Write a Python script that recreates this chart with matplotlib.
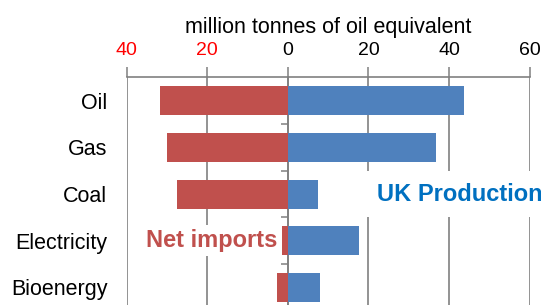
import matplotlib
matplotlib.use('Agg')
import matplotlib.pyplot as plt
from matplotlib.ticker import FuncFormatter

# data (million tonnes of oil equivalent)
fuels = ['Oil', 'Gas', 'Coal', 'Electricity', 'Bioenergy']
net_imports = [31.8, 29.9, 27.4, 1.6, 2.6]
uk_production = [43.8, 36.7, 7.4, 17.6, 8.0]
x_ticks = [-40, -20, 0, 20, 40, 60]

red = '#C0504D'
blue = '#4F81BD'
grey = '#808080'

plt.rcParams['font.family'] = ['Liberation Sans', 'DejaVu Sans']

fig = plt.figure(figsize=(5.41, 3.05), dpi=100)
ax = fig.add_axes([0.2342, -0.019, 0.7449, 0.7656])

pos = list(range(len(fuels)))
ax.barh(pos, [-v for v in net_imports], height=0.62, color=red, zorder=3)
ax.barh(pos, uk_production, height=0.62, color=blue, zorder=3)

ax.set_xlim(x_ticks[0], x_ticks[-1])
ax.set_ylim(len(fuels) - 0.5, -0.5)

# x axis on top, negative side shown as positive red numbers
ax.xaxis.tick_top()
ax.set_xticks(x_ticks)
ax.xaxis.set_major_formatter(FuncFormatter(lambda v, p: '%d' % abs(v)))
ax.tick_params(axis='x', direction='out', length=7.5, width=1.1, color=grey,
               labelsize=14, pad=5.5)
for lab, v in zip(ax.get_xticklabels(), x_ticks):
    lab.set_color('red' if v < 0 else 'black')
ax.xaxis.set_label_position('top')
ax.set_xlabel('million tonnes of oil equivalent', fontsize=15.5, labelpad=7)

# categories on the left
ax.set_yticks(pos)
ax.set_yticklabels(fuels, fontsize=15.5)
ax.tick_params(axis='y', length=0, pad=14)

ax.grid(axis='x', color=grey, linewidth=1.2, zorder=0)
ax.set_axisbelow(True)
for s in ['left', 'right', 'bottom']:
    ax.spines[s].set_visible(False)
ax.spines['top'].set_color(grey)
ax.spines['top'].set_linewidth(1.2)

# zero axis with category separators
loc0 = (0 - x_ticks[0]) / (x_ticks[-1] - x_ticks[0])
zero_ax = ax.secondary_yaxis(loc0)
zero_ax.set_yticks([p + 0.5 for p in pos[:-1]])
zero_ax.set_yticklabels([])
zero_ax.tick_params(direction='out', length=5, width=1.1, color=grey)
zero_ax.spines['left'].set_color(grey)
zero_ax.spines['left'].set_linewidth(1.2)

ax.text(-2.6, 3, 'Net imports', color=red, fontsize=17, fontweight='bold',
        ha='right', va='center', zorder=4,
        bbox=dict(facecolor='white', edgecolor='none', pad=3))
ax.text(22, 2, 'UK Production', color='#0070C0', fontsize=17, fontweight='bold',
        ha='left', va='center', zorder=4,
        bbox=dict(facecolor='white', edgecolor='none', pad=8))

fig.savefig('out.png', dpi=100)
